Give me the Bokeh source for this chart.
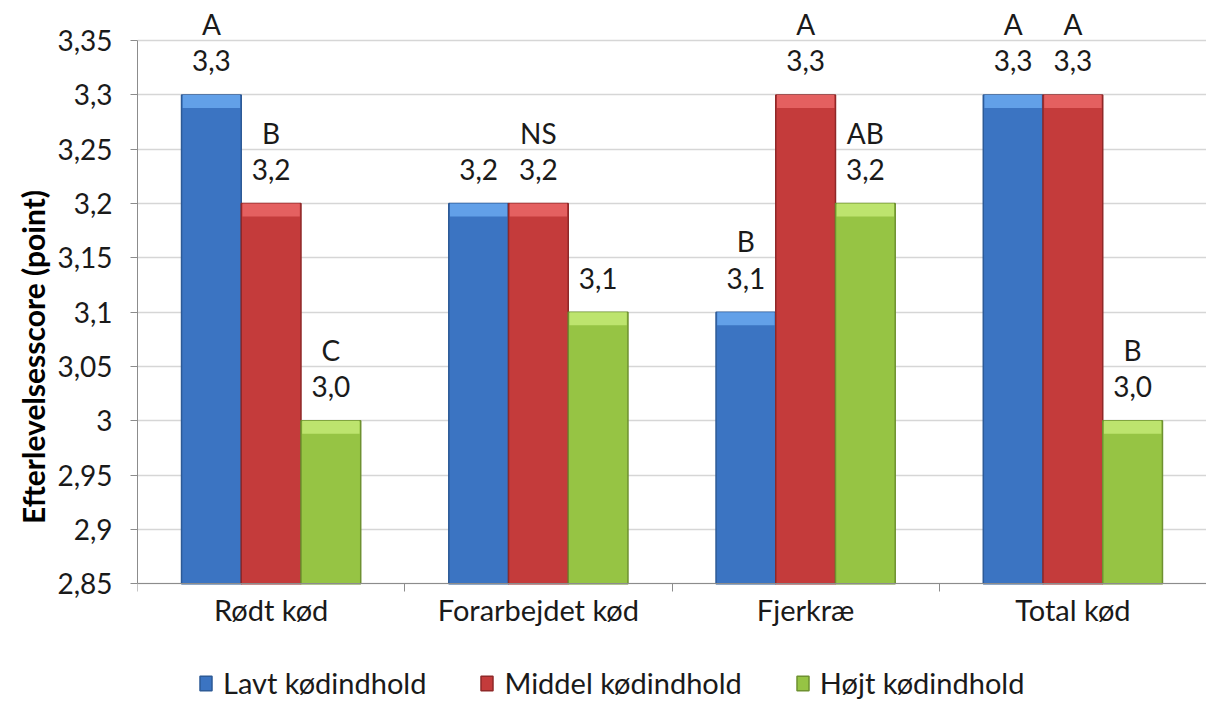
from bokeh.plotting import figure
from bokeh.models import ColumnDataSource, FixedTicker, Legend, LegendItem, Range1d, LinearAxis, Title
from bokeh.core.properties import value
from bokeh.embed import file_html
from bokeh.resources import INLINE

categories = ["Rødt kød", "Forarbejdet kød", "Fjerkræ", "Total kød"]
series = ["Lavt kødindhold", "Middel kødindhold", "Højt kødindhold"]
lavt = [3.3, 3.2, 3.1, 3.3]
middel = [3.2, 3.2, 3.3, 3.3]
hojt = [3.0, 3.1, 3.2, 3.0]
letters_lavt = ["A", "", "B", "A"]
letters_middel = ["B", "NS", "A", "A"]
letters_hojt = ["C", "", "AB", "B"]
y_ticks = [2.85, 2.9, 2.95, 3.0, 3.05, 3.1, 3.15, 3.2, 3.25, 3.3, 3.35]
y_title = "Efterlevelsesscore (point)"

colors = ["#3b74c2", "#c43b3b", "#96c444"]
edge_colors = ["#2d5a96", "#8f2828", "#6e9130"]
cap_colors = ["#62a0e8", "#e46060", "#bde46e"]

FONT = "Lato"
Y0 = 2.85
p = figure(frame_width=1069, frame_height=687, output_backend="svg", toolbar_location=None,
           x_range=Range1d(0, 4), y_range=Range1d(2.7424, 3.375), x_axis_location=None,
           min_border_left=137, min_border_right=0, min_border_top=13, min_border_bottom=0)
p.outline_line_color = None
p.background_fill_color = "white"
p.border_fill_color = "white"

bw = 0.2235
offsets = [-bw, 0.0, bw]
all_vals = [lavt, middel, hojt]
all_letters = [letters_lavt, letters_middel, letters_hojt]
legend_items = []
for k in range(3):
    xs = [i + 0.5 + offsets[k] for i in range(len(categories))]
    vals = all_vals[k]
    src = ColumnDataSource(dict(
        x=xs, top=vals, cap_bottom=[v - 0.012 for v in vals],
        lab=[f"{v:.1f}".replace(".", ",") for v in vals],
        letter=all_letters[k]))
    r = p.vbar(x="x", top="top", bottom=Y0, width=bw, source=src,
               fill_color=colors[k], line_color=edge_colors[k], line_width=1.5)
    p.vbar(x="x", top="top", bottom="cap_bottom", width=bw * 0.96, source=src,
           fill_color=cap_colors[k], line_color=None)
    p.text(x="x", y="top", text="lab", source=src, y_offset=-34,
           text_align="center", text_baseline="middle",
           text_font=value(FONT), text_font_size="28px", text_color="#1a1a1a")
    p.text(x="x", y="top", text="letter", source=src, y_offset=-71,
           text_align="center", text_baseline="middle",
           text_font=value(FONT), text_font_size="28px", text_color="#1a1a1a")
    legend_items.append(LegendItem(label=series[k], renderers=[r]))

# y axis
p.yaxis.ticker = FixedTicker(ticks=y_ticks)
p.yaxis.major_label_overrides = {t: (f"{t:.2f}".rstrip("0").rstrip(".")).replace(".", ",") for t in y_ticks}
p.yaxis.bounds = (Y0, 3.35)
p.yaxis.axis_line_color = "#8c8c8c"
p.yaxis.major_tick_line_color = "#8c8c8c"
p.yaxis.major_tick_out = 7
p.yaxis.major_tick_in = 0
p.yaxis.minor_tick_line_color = None
p.yaxis.major_label_text_font = FONT
p.yaxis.major_label_text_font_size = "28px"
p.yaxis.major_label_text_color = "#1a1a1a"
p.yaxis.major_label_standoff = 18

ytitle = Title(text=y_title, align="center", offset=75, text_font=FONT,
               text_font_size="30px", text_font_style="bold", text_color="#000000",
               standoff=8)
p.add_layout(ytitle, "left")

# x axis fixed at the base value
xaxis = LinearAxis(fixed_location=Y0)
xaxis.ticker = FixedTicker(ticks=[i + 0.5 for i in range(len(categories))],
                           minor_ticks=list(range(len(categories) + 1)))
xaxis.major_label_overrides = {i + 0.5: c for i, c in enumerate(categories)}
xaxis.axis_line_color = "#8c8c8c"
xaxis.major_tick_line_color = None
xaxis.major_tick_out = 0
xaxis.major_tick_in = 0
xaxis.minor_tick_line_color = "#8c8c8c"
xaxis.minor_tick_out = 8
xaxis.minor_tick_in = 0
xaxis.major_label_text_font = FONT
xaxis.major_label_text_font_size = "29px"
xaxis.major_label_text_color = "#1a1a1a"
xaxis.major_label_standoff = 0
p.add_layout(xaxis, "below")

p.xgrid.grid_line_color = None
p.ygrid.ticker = FixedTicker(ticks=y_ticks)
p.ygrid.grid_line_color = "#d6d6d6"
p.ygrid.grid_line_width = 1.5

legend = Legend(items=legend_items, orientation="horizontal", location=(61, 0),
                label_text_font=FONT, label_text_font_size="29px", label_text_color="#1a1a1a",
                glyph_width=15, glyph_height=18, spacing=53, label_standoff=10,
                border_line_color=None, background_fill_alpha=0, padding=3, margin=0)
p.add_layout(legend, "center")

open("out.html", "w").write(file_html(p, INLINE))
